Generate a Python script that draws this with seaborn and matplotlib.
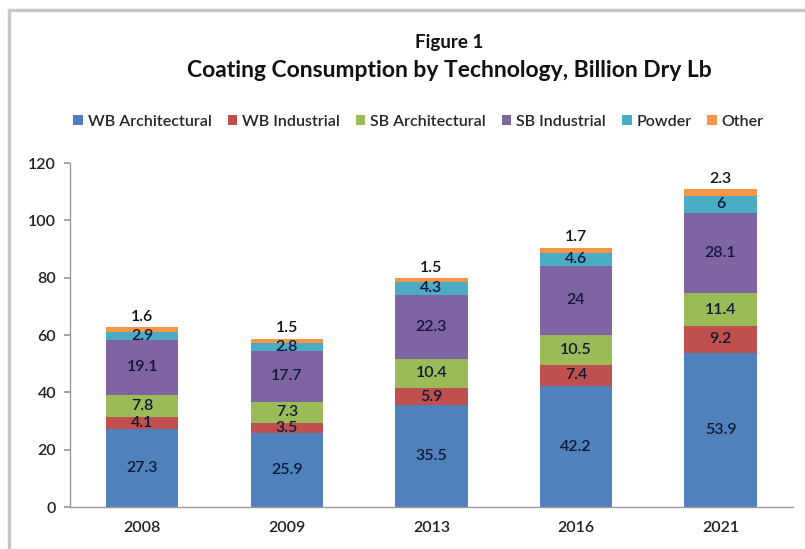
import numpy as np
import pandas as pd
import matplotlib
matplotlib.use("Agg")
import matplotlib.pyplot as plt
from matplotlib.lines import Line2D
from matplotlib.patches import Patch
import seaborn as sns

years = ["2008", "2009", "2013", "2016", "2021"]
wb_architectural = [27.3, 25.9, 35.5, 42.2, 53.9]
wb_industrial = [4.1, 3.5, 5.9, 7.4, 9.2]
sb_architectural = [7.8, 7.3, 10.4, 10.5, 11.4]
sb_industrial = [19.1, 17.7, 22.3, 24.0, 28.1]
powder = [2.9, 2.8, 4.3, 4.6, 6.0]
other = [1.6, 1.5, 1.5, 1.7, 2.3]

series_names = ["WB Architectural", "WB Industrial", "SB Architectural",
                "SB Industrial", "Powder", "Other"]
series_values = [wb_architectural, wb_industrial, sb_architectural,
                 sb_industrial, powder, other]
colors = ["#4F81BD", "#C0504D", "#9BBB59", "#8064A2", "#4BACC6", "#F79646"]

sns.set_theme(style="white")
plt.rcParams["font.family"] = ["Lato", "DejaVu Sans"]

fig = plt.figure(figsize=(8.05, 5.49), dpi=100)
ax = fig.add_axes([0.087, 0.0765, 0.898, 0.6265])

vals = np.array(series_values)
cum = np.cumsum(vals, axis=0)

# Stacked bars: draw cumulative totals from the top layer down
for i in range(len(series_names) - 1, -1, -1):
    df = pd.DataFrame({"year": years, "value": cum[i]})
    sns.barplot(data=df, x="year", y="value", color=colors[i], saturation=1,
                width=0.5, ax=ax, edgecolor="none", linewidth=0)

def fmt(v):
    return f"{v:g}"

for j in range(len(years)):
    for i in range(len(series_names)):
        top = cum[i, j]
        bottom = top - vals[i, j]
        if i == len(series_names) - 1:
            ax.text(j, top + 1.2, fmt(vals[i, j]), ha="center", va="bottom",
                    fontsize=11.5, color="#111111", fontweight="semibold")
        else:
            ax.text(j, (top + bottom) / 2, fmt(vals[i, j]), ha="center",
                    va="center", fontsize=11.5, color="#101838",
                    fontweight="semibold")

ax.set_ylim(0, 120)
ax.set_yticks(range(0, 121, 20))
ax.set_xlim(-0.5, 4.5)
ax.set_xlabel("")
ax.set_ylabel("")
for side in ["top", "right"]:
    ax.spines[side].set_visible(False)
for side in ["left", "bottom"]:
    ax.spines[side].set_color("#9a9a9a")
    ax.spines[side].set_linewidth(1.0)
ax.tick_params(axis="y", length=4, color="#9a9a9a", direction="out",
               labelsize=11.5, labelcolor="#222222", left=True, pad=6)
ax.tick_params(axis="x", length=0, labelsize=11.5, labelcolor="#222222", pad=10)
for lbl in ax.get_xticklabels() + ax.get_yticklabels():
    lbl.set_fontweight("semibold")

fig.text(0.558, 0.922, "Figure 1", ha="center", va="center", fontsize=13.5,
         fontweight="bold", color="#111111")
fig.text(0.558, 0.872, "Coating Consumption by Technology, Billion Dry Lb",
         ha="center", va="center", fontsize=16.5, fontweight="bold",
         color="#111111")

handles = [Patch(facecolor=c, edgecolor="none") for c in colors]
fig.legend(handles, series_names, loc="center", bbox_to_anchor=(0.52, 0.778),
           ncol=6, frameon=False, handlelength=0.6,
           handleheight=0.6, handletextpad=0.3, columnspacing=1.0,
           prop={"weight": "semibold", "size": 11.5})

# Outer frame lines
fig.add_artist(Line2D([0.011, 1.0], [0.982, 0.982], color="#c8c8c8", lw=2.5,
                      transform=fig.transFigure))
fig.add_artist(Line2D([0.011, 0.011], [0.0, 0.982], color="#c8c8c8", lw=2.5,
                      transform=fig.transFigure))

fig.savefig("out.png", dpi=100)
